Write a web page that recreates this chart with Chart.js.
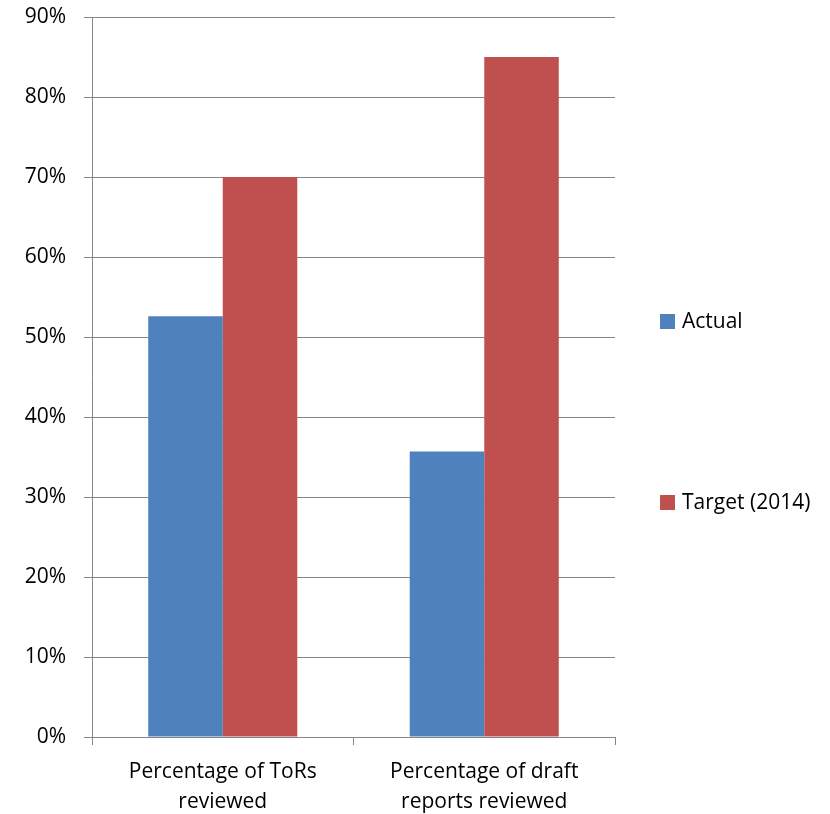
<!DOCTYPE html>
<html>
<head>
<meta charset="utf-8">
<script src="https://cdn.jsdelivr.net/npm/chart.js@4.4.1/dist/chart.umd.min.js"></script>
<style>
    html, body { margin: 0; padding: 0; background: #fff; }
    #wrap { width: 830px; height: 814px; }
</style>
</head>
<body>
<div id="wrap"><canvas id="reviewChart"></canvas></div>
<script>
// data
const categories = [
    ["Percentage of ToRs", "reviewed"],
    ["Percentage of draft", "reports reviewed"]
];
const seriesNames = ["Actual", "Target (2014)"];
const actualValues = [52.6, 35.7];
const targetValues = [70, 85];
const seriesColors = ["#4F81BD", "#C0504D"];

const axisGray = "#868686";
const fontFamily = "'Open Sans', 'Noto Sans', sans-serif";

// legend drawn to the right, items spaced like the Office original
const sideLegend = {
    id: "sideLegend",
    afterDraw(chart) {
        const ctx = chart.ctx;
        const area = chart.chartArea;
        const x = area.right + 45;
        const mid = chart.height / 2 + 5;
        const gap = 181;
        ctx.save();
        ctx.font = "21px " + fontFamily;
        ctx.textBaseline = "middle";
        chart.data.datasets.forEach((ds, i) => {
            const cy = mid + (i - 0.5) * gap;
            ctx.fillStyle = ds.backgroundColor;
            ctx.fillRect(x, cy - 7.5, 15, 15);
            ctx.fillStyle = "#000";
            ctx.fillText(ds.label, x + 22, cy + 1);
        });
        ctx.restore();
    }
};

const ctx = document.getElementById("reviewChart").getContext("2d");
const chart = new Chart(ctx, {
    type: "bar",
    data: {
        labels: categories,
        datasets: [
            {
                label: seriesNames[0],
                data: actualValues,
                backgroundColor: seriesColors[0],
                categoryPercentage: 0.57,
                barPercentage: 1.0
            },
            {
                label: seriesNames[1],
                data: targetValues,
                backgroundColor: seriesColors[1],
                categoryPercentage: 0.57,
                barPercentage: 1.0
            }
        ]
    },
    options: {
        responsive: true,
        maintainAspectRatio: false,
        animation: false,
        devicePixelRatio: 1,
        layout: {
            padding: { top: 17, right: 215, left: 0, bottom: 0 }
        },
        plugins: {
            legend: { display: false },
            tooltip: { enabled: false }
        },
        scales: {
            x: {
                offset: true,
                grid: {
                    offset: true,
                    drawOnChartArea: false,
                    drawTicks: true,
                    tickLength: 8,
                    color: axisGray
                },
                border: { display: true, color: axisGray },
                ticks: {
                    color: "#000",
                    padding: 12,
                    maxRotation: 0,
                    font: { family: fontFamily, size: 21, lineHeight: 1.42 }
                },
                afterFit(scale) { scale.height = 77; }
            },
            y: {
                min: 0,
                max: 90,
                grid: {
                    color: axisGray,
                    tickLength: 8,
                    drawTicks: true
                },
                border: { display: true, color: axisGray },
                ticks: {
                    stepSize: 10,
                    color: "#000",
                    padding: 18,
                    font: { family: fontFamily, size: 21 },
                    callback: (v) => v + "%"
                },
                afterFit(scale) {
                    scale.width = 92;
                    // keep tick padding from pushing the plot down
                    scale.paddingTop = 0;
                    scale.paddingBottom = 0;
                }
            }
        }
    },
    plugins: [sideLegend]
});
</script>
</body>
</html>
